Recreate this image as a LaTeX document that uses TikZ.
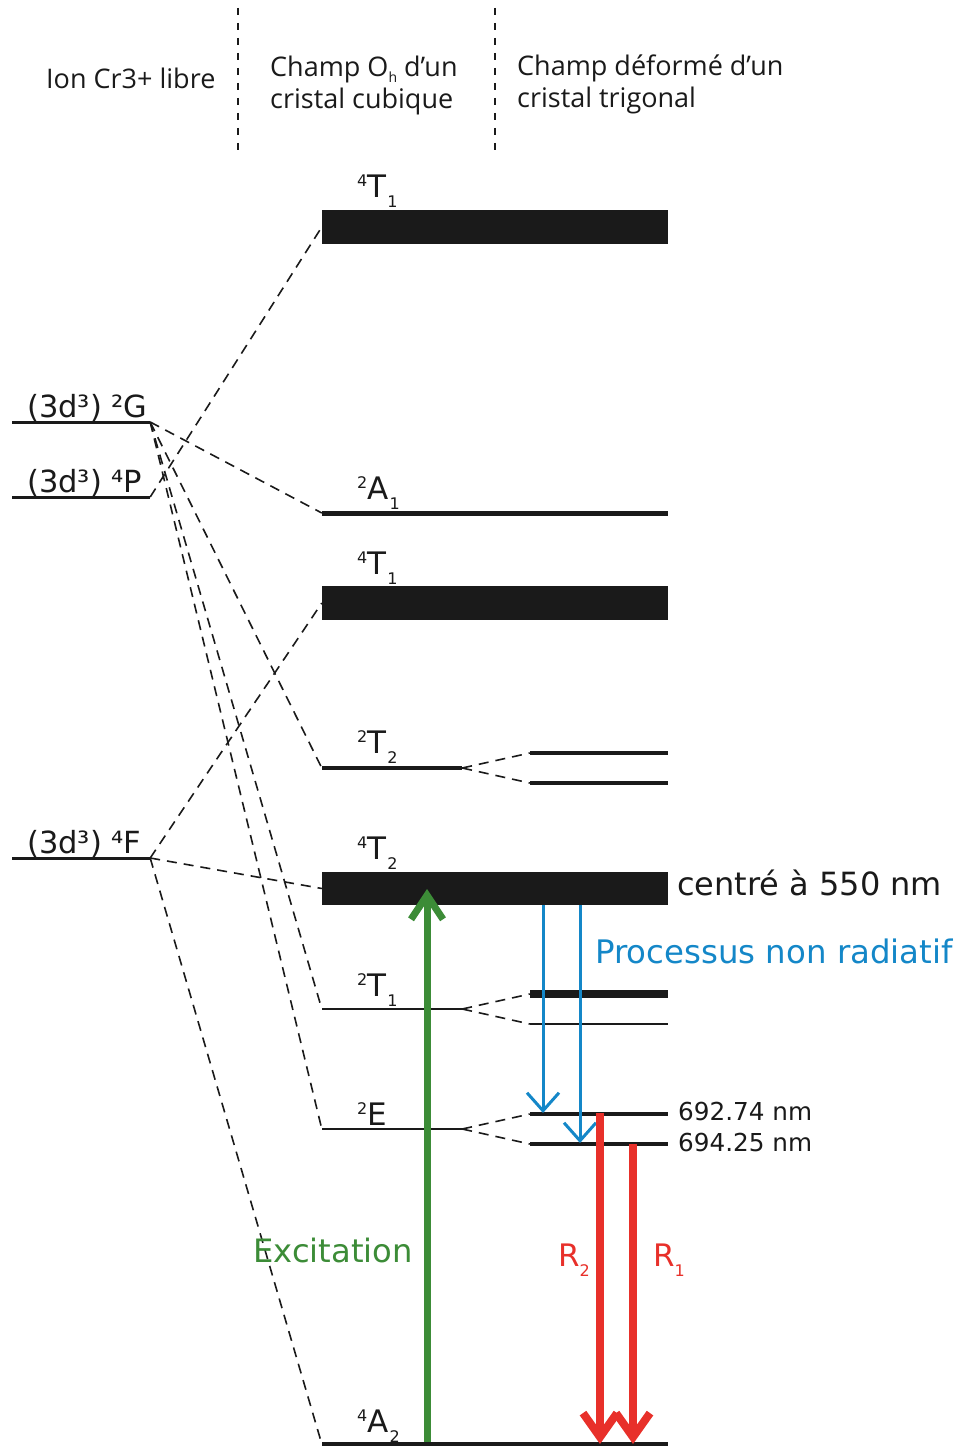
\documentclass[tikz,border=0pt]{standalone}
\usepackage{fontspec}
\setmainfont{DejaVu Sans}
\newfontfamily\hfont{Open Sans}
\usetikzlibrary{arrows.meta}
\definecolor{lvl}{HTML}{1A1A1A}
\definecolor{exgreen}{RGB}{60,140,55}
\definecolor{nrblue}{RGB}{20,135,200}
\definecolor{rred}{RGB}{232,48,42}
\newcommand{\LL}[3]{\raisebox{11pt}{\fontsize{16}{16}\selectfont #1}\fontsize{31}{31}\selectfont #2\hspace{1pt}\raisebox{-10pt}{\fontsize{16}{16}\selectfont #3}}
\tikzset{
  bar/.style={fill=lvl, draw=none, inner sep=0pt, minimum width=346pt, minimum height=34pt},
  lvline/.style={fill=lvl, draw=none, inner sep=0pt},
  corr/.style={draw=lvl, line width=1.6pt, dash pattern=on 10pt off 7pt},
  sep/.style={draw=lvl, line width=1.2pt, dash pattern=on 7pt off 8pt},
  lab/.style={anchor=base west, inner sep=0pt, text=lvl},
  hdr/.style={anchor=base west, inner sep=0pt, text=lvl, font=\hfont\fontsize{27}{27}\selectfont},
  exarrow/.style={draw=exgreen, line width=7pt, -{Straight Barb[length=24pt,width=32pt]}},
  nrarrow/.style={draw=nrblue, line width=3pt, -{Straight Barb[length=18pt,width=32pt]}},
  rarrow/.style={draw=rred, line width=8pt, -{Straight Barb[length=24pt,width=34pt]}},
}
\begin{document}
\begin{tikzpicture}[x=1pt,y=-1pt]
\useasboundingbox[fill=white] (0,0) rectangle (958,1447);
% header
\coordinate (s1t) at (238,8); \coordinate (s1b) at (238,152);
\coordinate (s2t) at (495,8); \coordinate (s2b) at (495,152);
\draw[sep] (s1t) -- (s1b);
\draw[sep] (s2t) -- (s2b);
\node[hdr] (h1) at (46,89) {Ion Cr3+ libre};
\node[hdr] (h2a) at (270,77) {Champ O\raisebox{-6pt}{\fontsize{14}{14}\selectfont h} d’un};
\node[hdr] (h2b) at (270,109) {cristal cubique};
\node[hdr] (h3a) at (517,76) {Champ déformé d’un};
\node[hdr] (h3b) at (517,108) {cristal trigonal};
% free ion levels
\node[lvline, minimum width=138pt, minimum height=3pt] (G) at (81,422) {};
\node[lvline, minimum width=138pt, minimum height=3pt] (P) at (81,497) {};
\node[lvline, minimum width=138pt, minimum height=3pt] (F) at (81,858) {};
\node[lab, font=\fontsize{30.5}{30.5}\selectfont] (Gl) at (27,417) {(3d³) ²G};
\node[lab, font=\fontsize{30.5}{30.5}\selectfont] (Pl) at (27,492) {(3d³) ⁴P};
\node[lab, font=\fontsize{30.5}{30.5}\selectfont] (Fl) at (27,853) {(3d³) ⁴F};
% cubic field levels
\node[bar] (T1a) at (495,227) {};
\node[lvline, minimum width=346pt, minimum height=5pt] (A1) at (495,513) {};
\node[bar] (T1b) at (495,603) {};
\node[lvline, minimum width=140pt, minimum height=3.5pt] (T2s) at (392,768) {};
\node[bar, minimum height=33pt] (T2b) at (495,888.5) {};
\node[lvline, minimum width=140pt, minimum height=1.6pt] (T1s) at (392,1009) {};
\node[lvline, minimum width=140pt, minimum height=1.6pt] (Es) at (392,1129) {};
\node[lvline, minimum width=346pt, minimum height=4pt] (A2) at (495,1444) {};
% labels
\node[lab] (T1al) at (357,198) {\LL{4}{T}{1}};
\node[lab] (A1l) at (357,499) {\LL{2}{A}{1}};
\node[lab] (T1bl) at (357,574) {\LL{4}{T}{1}};
\node[lab] (T2sl) at (357,753) {\LL{2}{T}{2}};
\node[lab] (T2bl) at (357,859) {\LL{4}{T}{2}};
\node[lab] (T1sl) at (357,996) {\LL{2}{T}{1}};
\node[lab] (Esl) at (357,1125) {\LL{2}{E}{}};
\node[lab] (A2l) at (357,1432) {\LL{4}{A}{2}};
% trigonal split levels
\node[lvline, minimum width=138pt, minimum height=3.5pt] (T2u) at (599,753) {};
\node[lvline, minimum width=138pt, minimum height=3.5pt] (T2d) at (599,783) {};
\node[lvline, minimum width=138pt, minimum height=8pt] (T1u) at (599,994) {};
\node[lvline, minimum width=138pt, minimum height=1.6pt] (T1d) at (599,1024) {};
\node[lvline, minimum width=138pt, minimum height=3.5pt] (Eu) at (599,1114) {};
\node[lvline, minimum width=138pt, minimum height=3.5pt] (Ed) at (599,1144) {};
% correlation lines
\draw[corr] (P.east) -- (T1a.west);
\draw[corr] (G.east) -- (A1.west);
\draw[corr] (G.east) -- (T2s.west);
\draw[corr] (G.east) -- (T1s.west);
\draw[corr] (G.east) -- (Es.west);
\draw[corr] (F.east) -- (T1b.west);
\draw[corr] (F.east) -- (T2b.west);
\draw[corr] (F.east) -- (A2.west);
\draw[corr] (T2s.east) -- (T2u.west);
\draw[corr] (T2s.east) -- (T2d.west);
\draw[corr] (T1s.east) -- (T1u.west);
\draw[corr] (T1s.east) -- (T1d.west);
\draw[corr] (Es.east) -- (Eu.west);
\draw[corr] (Es.east) -- (Ed.west);
% right labels
\node[lab, font=\fontsize{32}{32}\selectfont] (c550) at (677,895) {centré à 550 nm};
\node[lab, font=\fontsize{24.7}{24.7}\selectfont] (w1) at (678,1120) {692.74 nm};
\node[lab, font=\fontsize{24.7}{24.7}\selectfont] (w2) at (678,1151) {694.25 nm};
% arrows
\coordinate (gs) at (427,1442); \coordinate (ge) at (427,889);
\draw[exarrow] (gs) -- (ge);
\node[lab, text=exgreen, font=\fontsize{32.2}{32.2}\selectfont] (exl) at (253,1262) {Excitation};
\coordinate (b1s) at (543,905); \coordinate (b1e) at (543,1113);
\coordinate (b2s) at (580,905); \coordinate (b2e) at (580,1143);
\draw[nrarrow] (b1s) -- (b1e);
\draw[nrarrow] (b2s) -- (b2e);
\node[lab, text=nrblue, font=\fontsize{32.4}{32.4}\selectfont] (nrl) at (595,963) {Processus non radiatif};
\coordinate (r2s) at (600,1113); \coordinate (r2e) at (600,1444);
\coordinate (r1s) at (633,1144); \coordinate (r1e) at (633,1444);
\draw[rarrow] (r2s) -- (r2e);
\draw[rarrow] (r1s) -- (r1e);
\node[lab, text=rred, font=\fontsize{31}{31}\selectfont] (R2l) at (558,1266) {R\raisebox{-10pt}{\fontsize{16}{16}\selectfont 2}};
\node[lab, text=rred, font=\fontsize{31}{31}\selectfont] (R1l) at (653,1266) {R\raisebox{-10pt}{\fontsize{16}{16}\selectfont 1}};
\end{tikzpicture}
\end{document}
